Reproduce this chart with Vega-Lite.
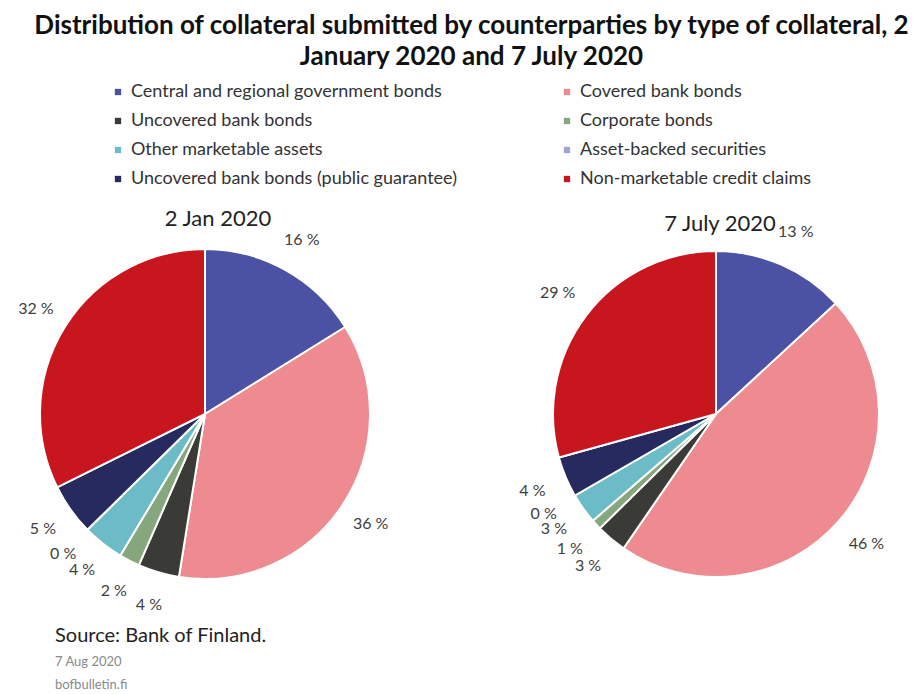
{
  "$schema": "https://vega.github.io/schema/vega-lite/v6.json",
  "padding": {"left": 15, "right": 0, "top": 13, "bottom": 0},
  "background": "white",
  "spacing": 11,
  "config": {
    "view": {"stroke": null},
    "font": "Lato",
    "legend": {"layout": {"top": {"anchor": "middle"}}}
  },
  "title": {
    "text": ["Distribution  of collateral submitted by counterparties by type of collateral, 2", "January  2020 and 7 July 2020"],
    "font": "Lato",
    "fontSize": 26,
    "fontWeight": "bold",
    "color": "#111111",
    "lineHeight": 31,
    "anchor": "middle",
    "dx": 11,
    "offset": 13
  },
  "datasets": {
    "collateral": [
      {"date": "2 Jan 2020", "idx": 1, "type": "Central and regional government bonds", "pct": 16, "label": "16 %"},
      {"date": "2 Jan 2020", "idx": 2, "type": "Covered bank bonds", "pct": 36, "label": "36 %"},
      {"date": "2 Jan 2020", "idx": 3, "type": "Uncovered bank bonds", "pct": 4, "label": "4 %"},
      {"date": "2 Jan 2020", "idx": 4, "type": "Corporate bonds", "pct": 2, "label": "2 %"},
      {"date": "2 Jan 2020", "idx": 5, "type": "Other marketable assets", "pct": 4, "label": "4 %"},
      {"date": "2 Jan 2020", "idx": 6, "type": "Asset-backed securities", "pct": 0, "label": "0 %"},
      {"date": "2 Jan 2020", "idx": 7, "type": "Uncovered bank bonds (public guarantee)", "pct": 5, "label": "5 %"},
      {"date": "2 Jan 2020", "idx": 8, "type": "Non-marketable credit claims", "pct": 32, "label": "32 %"},
      {"date": "7 July 2020", "idx": 1, "type": "Central and regional government bonds", "pct": 13, "label": "13 %"},
      {"date": "7 July 2020", "idx": 2, "type": "Covered bank bonds", "pct": 46, "label": "46 %"},
      {"date": "7 July 2020", "idx": 3, "type": "Uncovered bank bonds", "pct": 3, "label": "3 %"},
      {"date": "7 July 2020", "idx": 4, "type": "Corporate bonds", "pct": 1, "label": "1 %"},
      {"date": "7 July 2020", "idx": 5, "type": "Other marketable assets", "pct": 3, "label": "3 %"},
      {"date": "7 July 2020", "idx": 6, "type": "Asset-backed securities", "pct": 0, "label": "0 %"},
      {"date": "7 July 2020", "idx": 7, "type": "Uncovered bank bonds (public guarantee)", "pct": 4, "label": "4 %"},
      {"date": "7 July 2020", "idx": 8, "type": "Non-marketable credit claims", "pct": 29, "label": "29 %"}
    ]
  },
  "vconcat": [
    {
      "hconcat": [
        {
          "width": 380,
          "height": 400,
          "data": {"name": "collateral"},
          "transform": [{"filter": "datum.date === '2 Jan 2020'"}],
          "title": {"text": "2 Jan 2020", "fontSize": 22, "fontWeight": "normal", "color": "#222222", "dx": 13, "offset": -17, "font": "Lato"},
          "layer": [
            {
              "mark": {"type": "arc", "outerRadius": 165, "stroke": "white", "strokeWidth": 2},
              "encoding": {
                "theta": {"field": "pct", "type": "quantitative", "stack": true},
                "order": {"field": "idx", "type": "quantitative"},
                "color": {
                  "field": "type",
                  "type": "nominal",
                  "scale": {
                    "domain": ["Central and regional government bonds", "Covered bank bonds", "Uncovered bank bonds", "Corporate bonds", "Other marketable assets", "Asset-backed securities", "Uncovered bank bonds (public guarantee)", "Non-marketable credit claims"],
                    "range": ["#4B52A3", "#EE8B90", "#3A3A36", "#86A77E", "#6BBCC6", "#9FA6D6", "#262A5E", "#C8161E"]
                  },
                  "legend": {
                    "title": null,
                    "orient": "top",
                    "columns": 2,
                    "direction": "horizontal",
                    "symbolType": "square",
                    "symbolSize": 40,
                    "symbolStrokeWidth": 0,
                    "labelFont": "Lato",
                    "labelFontSize": 18,
                    "labelColor": "#333333",
                    "labelLimit": 400,
                    "columnPadding": 100,
                    "rowPadding": 11,
                    "offset": 20,
                    "padding": 0
                  }
                }
              }
            },
            {
              "mark": {"type": "text", "radius": 199, "fontSize": 16, "color": "#404040", "font": "Lato"},
              "encoding": {
                "theta": {"field": "pct", "type": "quantitative", "stack": true},
                "order": {"field": "idx", "type": "quantitative"},
                "text": {"field": "label"}
              }
            }
          ]
        },
        {
          "width": 380,
          "height": 400,
          "data": {"name": "collateral"},
          "transform": [{"filter": "datum.date === '7 July 2020'"}],
          "title": {"text": "7 July 2020", "fontSize": 22, "fontWeight": "normal", "color": "#222222", "dx": 4, "offset": -22, "font": "Lato"},
          "layer": [
            {
              "mark": {"type": "arc", "outerRadius": 163, "stroke": "white", "strokeWidth": 2},
              "encoding": {
                "theta": {"field": "pct", "type": "quantitative", "stack": true},
                "order": {"field": "idx", "type": "quantitative"},
                "color": {"field": "type", "type": "nominal"}
              }
            },
            {
              "mark": {"type": "text", "radius": 199, "fontSize": 16, "color": "#404040", "font": "Lato"},
              "encoding": {
                "theta": {"field": "pct", "type": "quantitative", "stack": true},
                "order": {"field": "idx", "type": "quantitative"},
                "text": {"field": "label"}
              }
            }
          ]
        }
      ],
      "spacing": 124
    },
    {
      "width": 380,
      "height": 1,
      "data": {"values": [{}]},
      "mark": {"type": "text"},
      "encoding": {},
      "title": {
        "text": "Source: Bank of Finland.",
        "subtitle": ["7 Aug 2020", "bofbulletin.fi"],
        "anchor": "start",
        "dx": 40,
        "font": "Lato",
        "fontSize": 20,
        "fontWeight": "normal",
        "color": "#222222",
        "subtitleFont": "Lato",
        "subtitleFontSize": 13,
        "subtitleColor": "#8a8a8a",
        "subtitleLineHeight": 23,
        "subtitlePadding": 10
      }
    }
  ],
  "resolve": {"scale": {"color": "shared"}}
}
